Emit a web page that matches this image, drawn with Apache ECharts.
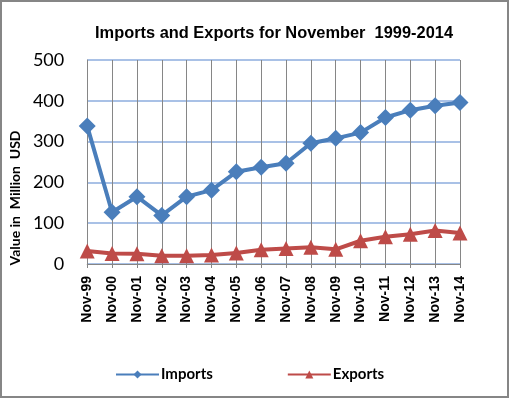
<!DOCTYPE html>
<html>
<head>
<meta charset="utf-8">
<script src="https://cdn.jsdelivr.net/npm/echarts@6/dist/echarts.min.js"></script>
<style>
html,body{margin:0;padding:0;background:#fff;}
#wrap{position:absolute;left:0;top:0;width:505px;height:394px;border:2px solid #868686;background:#fff;}
#chart{width:509px;height:398px;position:absolute;left:-2px;top:-2px;}
</style>
</head>
<body>
<div id="wrap"><div id="chart"></div></div>
<script>
const categories = ['Nov-99','Nov-00','Nov-01','Nov-02','Nov-03','Nov-04','Nov-05','Nov-06','Nov-07','Nov-08','Nov-09','Nov-10','Nov-11','Nov-12','Nov-13','Nov-14'];
const imports = [338, 127, 165, 119, 165, 181, 226, 237, 247, 296, 308, 322, 359, 377, 388, 396];
const exports_ = [32, 26, 25, 20, 20, 22, 27, 35, 38, 41, 36, 57, 67, 73, 82, 76];
const yTicks = [0, 100, 200, 300, 400, 500];

const chart = echarts.init(document.getElementById('chart'), null, {renderer: 'canvas'});
chart.setOption({
  animation: false,
  backgroundColor: 'transparent',
  title: {
    text: 'Imports and Exports for November  1999-2014',
    left: 269, top: 20, textAlign: 'center',
    textStyle: {fontFamily: 'Liberation Sans', fontWeight: 'bold', fontSize: 16.4, color: '#000'}
  },
  legend: {
    left: 110, top: 362,
    itemWidth: 43, itemHeight: 10, itemGap: 74,
    textStyle: {fontFamily: 'Lato', fontWeight: 'bold', fontSize: 15, color: '#000', padding: [0,0,0,-3]},
    data: ['Imports', 'Exports']
  },
  grid: {left: 86, right: 49, top: 60, bottom: 134, containLabel: false},
  xAxis: {
    type: 'category', data: categories, boundaryGap: false,
    axisLine: {lineStyle: {color: '#868686', width: 1}},
    axisTick: {show: true, length: 4, inside: false, lineStyle: {color: '#868686'}},
    splitLine: {show: true, lineStyle: {color: '#868686', width: 1}},
    axisLabel: {rotate: 90, margin: 12, interval: 0, fontFamily: 'Liberation Sans', fontWeight: 'bold', fontSize: 14, color: '#000'}
  },
  yAxis: {
    type: 'value', min: yTicks[0], max: yTicks[yTicks.length-1], interval: 100,
    name: 'Value in  Million  USD', nameLocation: 'middle', nameGap: 61, nameRotate: 90,
    nameTextStyle: {fontFamily: 'Lato', fontWeight: 'bold', fontSize: 14, color: '#000', padding: [0, 72, 0, 0]},
    axisLine: {show: true, lineStyle: {color: '#868686'}},
    axisTick: {show: false},
    splitLine: {show: true, lineStyle: {color: '#a9c1e6', width: 2}},
    axisLabel: {margin: 23, fontFamily: 'Lato', fontSize: 18, color: '#000'}
  },
  series: [
    {
      name: 'Imports', type: 'line', data: imports,
      symbol: 'diamond', symbolSize: 17,
      lineStyle: {color: '#4a7ebb', width: 4},
      itemStyle: {color: '#4a7ebb'}
    },
    {
      name: 'Exports', type: 'line', data: exports_,
      symbol: 'triangle', symbolSize: 15,
      lineStyle: {color: '#be4b48', width: 4},
      itemStyle: {color: '#be4b48'}
    }
  ]
});
</script>
</body>
</html>
